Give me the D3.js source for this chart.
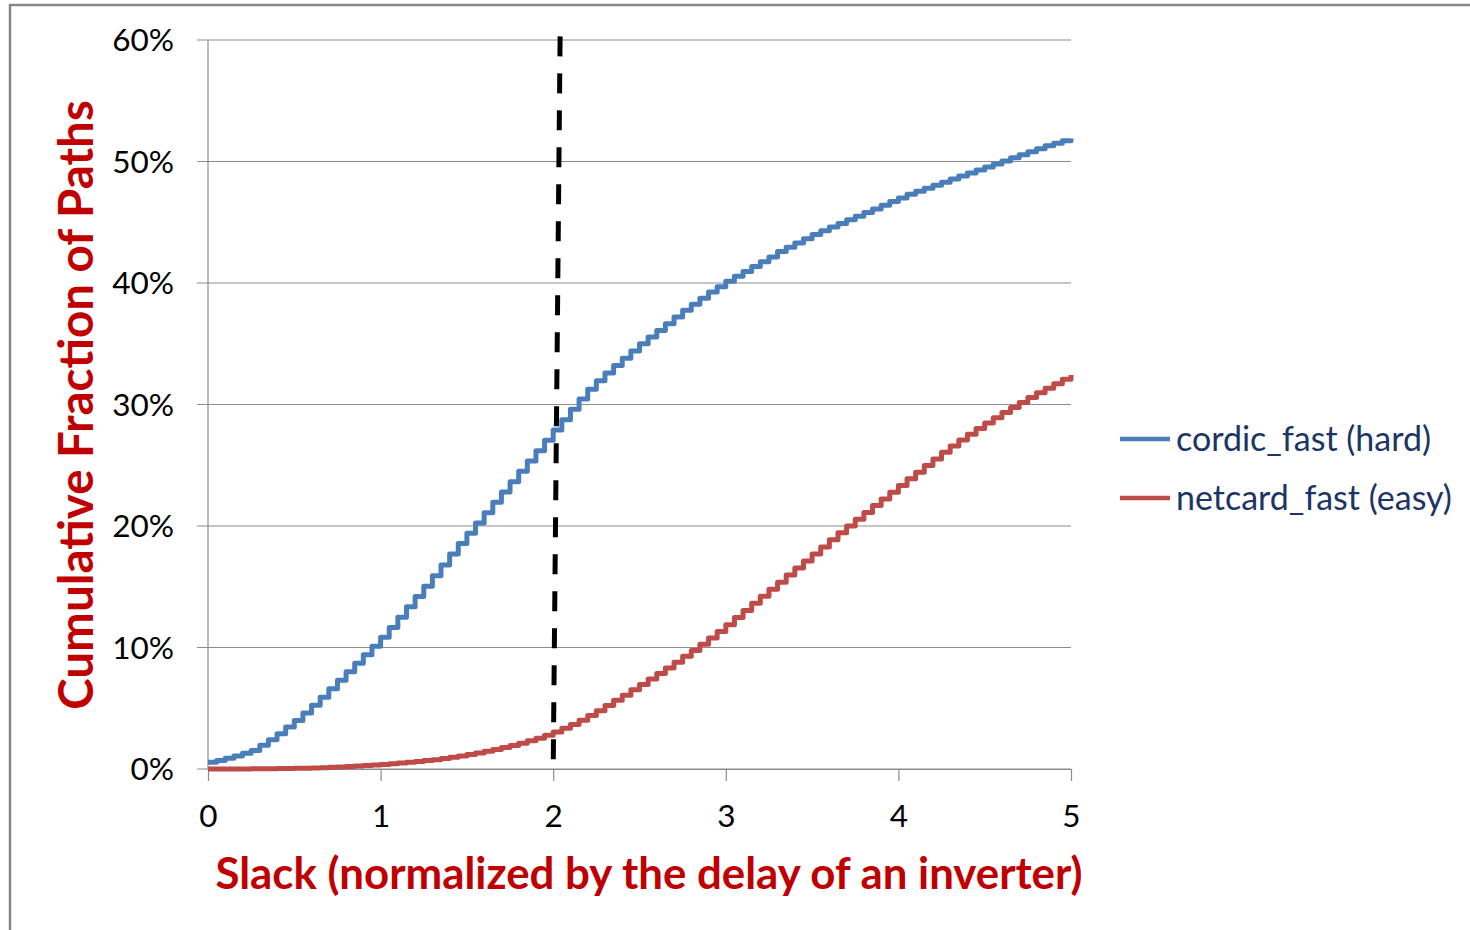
<!DOCTYPE html>
<html>
<head>
<meta charset="utf-8">
<script src="https://cdn.jsdelivr.net/npm/d3@7"></script>
<style>
  html, body { margin: 0; padding: 0; background: #fff; }
  svg { display: block; }
  text { font-family: Lato, "Open Sans", sans-serif; }
</style>
</head>
<body>
<svg id="chart" width="1470" height="930"></svg>
<script>
// Slack grid: 0 to 5 in steps of 0.05 (inverter delays)
const slack = d3.range(0, 101).map(i => +(i * 0.05).toFixed(2));

// Cumulative fraction of paths (%) at each slack value
const cordicFast = [
  0.55, 0.70, 0.88, 1.08, 1.30, 1.52, 1.95, 2.40, 2.90, 3.45,
  4.00, 4.60, 5.25, 5.90, 6.60, 7.30, 8.00, 8.70, 9.40, 10.10,
  10.85, 11.65, 12.50, 13.35, 14.20, 15.05, 15.90, 16.80, 17.70, 18.55,
  19.40, 20.25, 21.10, 21.95, 22.80, 23.65, 24.50, 25.35, 26.20, 27.05,
  27.90, 28.75, 29.60, 30.45, 31.25, 31.95, 32.60, 33.20, 33.80, 34.40,
  35.00, 35.55, 36.10, 36.65, 37.20, 37.75, 38.25, 38.75, 39.25, 39.70,
  40.15, 40.55, 40.95, 41.35, 41.75, 42.15, 42.60, 42.95, 43.30, 43.65,
  44.00, 44.30, 44.60, 44.90, 45.20, 45.50, 45.80, 46.10, 46.40, 46.70,
  47.00, 47.30, 47.55, 47.80, 48.05, 48.30, 48.55, 48.80, 49.05, 49.30,
  49.55, 49.80, 50.05, 50.30, 50.55, 50.80, 51.05, 51.30, 51.50, 51.70,
  51.90
];

const netcardFast = [
  0.00, 0.00, 0.00, 0.01, 0.01, 0.02, 0.02, 0.03, 0.04, 0.05,
  0.06, 0.07, 0.09, 0.11, 0.14, 0.17, 0.20, 0.24, 0.28, 0.33,
  0.38, 0.43, 0.49, 0.55, 0.62, 0.69, 0.77, 0.86, 0.96, 1.07,
  1.19, 1.32, 1.46, 1.61, 1.77, 1.94, 2.12, 2.32, 2.54, 2.78,
  3.05, 3.35, 3.67, 4.02, 4.40, 4.80, 5.22, 5.65, 6.08, 6.52,
  6.96, 7.41, 7.86, 8.32, 8.79, 9.27, 9.76, 10.26, 10.78, 11.32,
  11.88, 12.46, 13.05, 13.64, 14.22, 14.80, 15.38, 15.96, 16.54, 17.12,
  17.70, 18.28, 18.86, 19.44, 20.00, 20.56, 21.12, 21.68, 22.23, 22.78,
  23.33, 23.88, 24.43, 24.98, 25.52, 26.06, 26.58, 27.08, 27.56, 28.02,
  28.47, 28.91, 29.34, 29.76, 30.17, 30.57, 30.96, 31.34, 31.71, 32.07,
  32.42
];

const seriesNames = ["cordic_fast (hard)", "netcard_fast (easy)"];
const seriesColors = ["#4A7EBB", "#BE4B48"];

// Axis ticks
const xTicks = [0, 1, 2, 3, 4, 5];
const yTicks = [0, 10, 20, 30, 40, 50, 60];

// Hand-drawn slack threshold marker (bottom and top end points)
const thresholdSlack = [2.0, 2.04];
const thresholdFrac = [0, 60.3];

const svg = d3.select("#chart");

// Outer chart frame
svg.append("rect")
  .attr("x", 10).attr("y", 5)
  .attr("width", 1520).attr("height", 1000)
  .attr("fill", "#fff")
  .attr("stroke", "#868686").attr("stroke-width", 2.5);

const x = d3.scaleLinear().domain([0, 5]).range([208, 1071]);
const y = d3.scaleLinear().domain([0, 60]).range([769, 40]);

const gridColor = "#8c8c8c";

// Horizontal gridlines with outward tick stubs
svg.append("g").selectAll("line")
  .data(yTicks)
  .join("line")
  .attr("x1", 197).attr("x2", x(5))
  .attr("y1", d => y(d)).attr("y2", d => y(d))
  .attr("stroke", gridColor).attr("stroke-width", 1.2);

// Vertical axis line
svg.append("line")
  .attr("x1", x(0)).attr("x2", x(0))
  .attr("y1", y(60)).attr("y2", y(0))
  .attr("stroke", gridColor).attr("stroke-width", 1.2);

// Y tick labels
svg.append("g").selectAll("text")
  .data(yTicks)
  .join("text")
  .attr("x", 174)
  .attr("y", d => y(d))
  .attr("dy", "0.36em")
  .attr("text-anchor", "end")
  .attr("font-size", 31.5)
  .attr("fill", "#000")
  .text(d => d + "%");

// X axis
const xAxis = d3.axisBottom(x)
  .tickValues(xTicks)
  .tickSize(12)
  .tickSizeOuter(0)
  .tickPadding(24)
  .tickFormat(d3.format("d"));

const gx = svg.append("g")
  .attr("transform", `translate(0,${y(0)})`)
  .call(xAxis);
gx.select(".domain").attr("stroke", gridColor).attr("stroke-width", 1.2);
gx.selectAll(".tick line").attr("stroke", gridColor).attr("stroke-width", 1.2);
gx.selectAll(".tick text")
  .attr("font-family", "Lato, 'Open Sans', sans-serif")
  .attr("font-size", 31.5)
  .attr("fill", "#000");

// Series as step lines
const series = [cordicFast, netcardFast];
const line = d3.line()
  .x((d, i) => x(slack[i]))
  .y(d => y(d))
  .curve(d3.curveStepAfter);

svg.append("g").selectAll("path")
  .data(series)
  .join("path")
  .attr("d", d => line(d))
  .attr("fill", "none")
  .attr("stroke", (d, i) => seriesColors[i])
  .attr("stroke-width", 5)
  .attr("stroke-linejoin", "round");

// Dashed threshold marker
svg.append("line")
  .attr("x1", x(thresholdSlack[1])).attr("y1", y(thresholdFrac[1]))
  .attr("x2", x(thresholdSlack[0])).attr("y2", y(thresholdFrac[0]))
  .attr("stroke", "#000")
  .attr("stroke-width", 5)
  .attr("stroke-dasharray", "20,17");

// Axis titles
svg.append("text")
  .attr("x", 649).attr("y", 889)
  .attr("text-anchor", "middle")
  .attr("font-size", 43.8)
  .attr("font-weight", "bold")
  .attr("fill", "#C00000")
  .text("Slack (normalized by the delay of an inverter)");

svg.append("text")
  .attr("transform", "translate(93,405) rotate(-90)")
  .attr("text-anchor", "middle")
  .attr("font-size", 47.5)
  .attr("font-weight", "bold")
  .attr("fill", "#C00000")
  .text("Cumulative Fraction of Paths");

// Legend
const legend = svg.append("g").selectAll("g")
  .data(seriesNames)
  .join("g")
  .attr("transform", (d, i) => `translate(1120,${439 + i * 59})`);

legend.append("line")
  .attr("x1", 0).attr("x2", 50)
  .attr("y1", 0).attr("y2", 0)
  .attr("stroke", (d, i) => seriesColors[i])
  .attr("stroke-width", 4.5);

legend.append("text")
  .attr("x", 56).attr("y", 0)
  .attr("dy", "0.36em")
  .attr("font-size", 34)
  .attr("fill", "#1C3564")
  .text(d => d);
</script>
</body>
</html>
